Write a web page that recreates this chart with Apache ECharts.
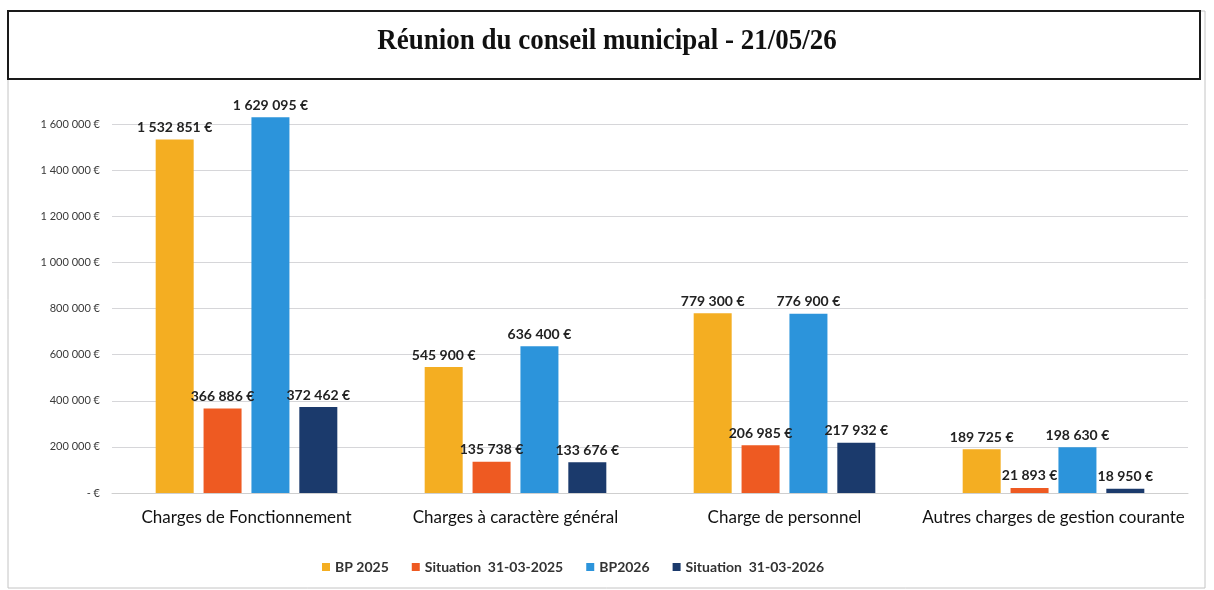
<!DOCTYPE html>
<html>
<head>
<meta charset="utf-8">
<script src="https://cdn.jsdelivr.net/npm/echarts@6/dist/echarts.min.js"></script>
<style>html,body{margin:0;padding:0;background:#fff;}#c{width:1214px;height:590px;}</style>
</head>
<body>
<div id="c"></div>
<script>
const titleText = 'Réunion du conseil municipal - 21/05/26';
const categories = ['Charges de Fonctionnement', 'Charges à caractère général', 'Charge de personnel', 'Autres charges de gestion courante'];
const seriesNames = ['BP 2025', 'Situation  31-03-2025', 'BP2026', 'Situation  31-03-2026'];
const bp2025 = [1532851, 545900, 779300, 189725];
const sit2025 = [366886, 135738, 206985, 21893];
const bp2026 = [1629095, 636400, 776900, 198630];
const sit2026 = [372462, 133676, 217932, 18950];
const colors = ['#F4AE22', '#EE5A22', '#2C94DB', '#1B3A6C'];

function fmt(v) {
  if (v === 0) return '- €';
  return String(Math.round(v)).replace(/\B(?=(\d{3})+(?!\d))/g, ' ') + ' €';
}

const dataSets = [bp2025, sit2025, bp2026, sit2026];
const chart = echarts.init(document.getElementById('c'));
chart.setOption({
  animation: false,
  backgroundColor: '#fff',
  graphic: [
    { type: 'rect', shape: { x: 8, y: 11, width: 1197, height: 577 }, style: { fill: 'none', stroke: '#c4c4c4', lineWidth: 1 }, z: 0 },
    { type: 'rect', shape: { x: 8, y: 11, width: 1192, height: 68 }, style: { fill: '#fff', stroke: '#1a1a1a', lineWidth: 2 }, z: 1 },
    { type: 'text', x: 607, y: 42, scaleX: 0.93, style: { x: 0, y: 0, text: titleText, font: 'bold 29px "Liberation Serif"', fill: '#111', align: 'center', verticalAlign: 'middle' }, z: 2 }
  ],
  legend: {
    top: 555,
    left: 317,
    itemWidth: 8,
    itemHeight: 8,
    itemGap: 23,
    icon: 'rect',
    textStyle: { fontFamily: 'Lato', fontSize: 14, fontWeight: 'bold', color: '#333' },
    data: seriesNames
  },
  grid: { left: 112, right: 26, top: 124, bottom: 97 },
  xAxis: {
    type: 'category',
    data: categories,
    axisLine: { lineStyle: { color: '#cfcfcf' } },
    axisTick: { show: false },
    axisLabel: { interval: 0, fontFamily: 'Lato', fontSize: 17, color: '#111', margin: 16 }
  },
  yAxis: {
    type: 'value',
    min: 0,
    max: 1600000,
    interval: 200000,
    axisLine: { show: false },
    axisTick: { show: false },
    splitLine: { lineStyle: { color: '#d6d6d9' } },
    axisLabel: { fontFamily: 'Lato', fontSize: 11, color: '#3a3a3a', margin: 12, formatter: fmt }
  },
  series: dataSets.map((d, i) => ({
    name: seriesNames[i],
    type: 'bar',
    data: d,
    barWidth: 38,
    barGap: '26%',
    clip: false,
    itemStyle: { color: colors[i] },
    label: {
      show: true,
      position: 'top',
      distance: 5,
      fontFamily: 'Lato',
      fontSize: 14,
      fontWeight: 'bold',
      color: '#222',
      formatter: p => fmt(p.value)
    }
  }))
});
</script>
</body>
</html>
